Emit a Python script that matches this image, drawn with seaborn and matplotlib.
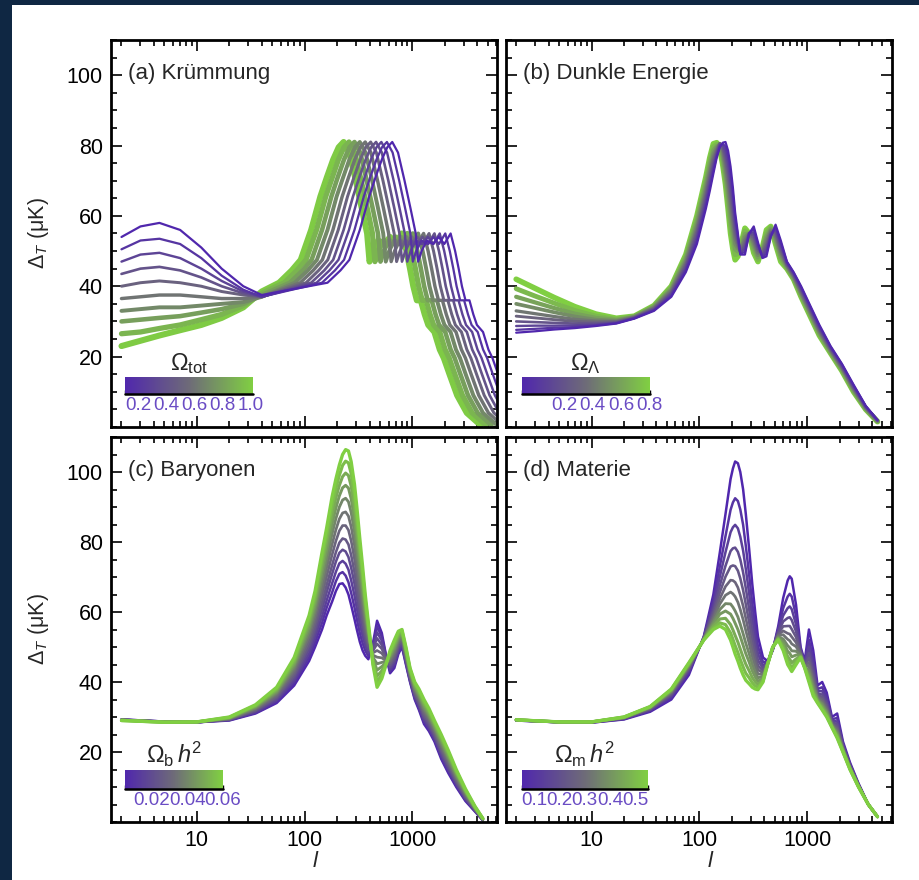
import numpy as np
import matplotlib
matplotlib.use("Agg")
import matplotlib.pyplot as plt
import seaborn as sns
from matplotlib.colors import LinearSegmentedColormap, Normalize
from matplotlib.cm import ScalarMappable
from matplotlib.patches import Rectangle
from matplotlib.ticker import FixedLocator, MultipleLocator, LogLocator, NullFormatter

# ============ Style ============
sns.set_theme(style="ticks")
plt.rcParams["font.family"] = ["Liberation Sans", "DejaVu Sans"]
plt.rcParams["mathtext.fontset"] = "custom"
plt.rcParams["mathtext.rm"] = "Liberation Sans"
plt.rcParams["mathtext.it"] = "Liberation Sans:italic"

CMAP = LinearSegmentedColormap.from_list("pg", ["#5027ad", "#6e6b78", "#80cf42"])

# ============ Panel (a): curvature ============
A_PARAM = [0.1, 0.2, 0.3, 0.4, 0.5, 0.6, 0.7, 0.8, 0.9, 1.0]
A_LOW_ELL = [2, 3, 4.5, 7, 11, 17, 27, 40]
A_LOW = [
    [54, 57, 58, 56, 51, 45, 40, 37.5],
    [50.5, 53, 53.5, 52, 48, 43, 39, 37],
    [47, 49, 49.5, 48, 45, 41.5, 38.5, 37],
    [43.5, 45, 45.5, 44.5, 42.5, 40, 38, 37],
    [40, 41, 41.5, 41, 40, 38.5, 37.5, 37],
    [36.5, 37, 37.5, 37.5, 37, 36.5, 36.5, 37],
    [33, 33.5, 34, 34, 34.5, 35, 35.5, 37],
    [30, 30.5, 31, 31.5, 32.5, 33.5, 35, 37.5],
    [26.5, 27, 28, 29, 30.5, 32, 34.5, 38],
    [23, 24.5, 26, 27.5, 29, 31, 34, 38.5],
]
# heights of the features after the first rise (same for every curve)
A_HIGH = [41, 44.5, 47.5, 56, 65.5, 71, 76, 79.5, 81, 78, 70, 62, 55, 47, 50, 53, 52,
          54, 52, 55, 50, 45, 40, 36, 36, 32, 29, 27, 22, 19.6, 15, 9, 4, 0.5]
# multipole positions of those features, one list per curve
A_HIGH_ELL = [
    [163, 215, 260, 325, 397, 455, 520, 585, 650, 735, 845, 962, 1073, 1131, 1216, 1359, 1554,
     1755, 1976, 2262, 2490, 2685, 2880, 3107, 3380, 3673, 3965, 4518, 5070, 5525, 6240],
    [145, 191, 232, 290, 354, 406, 464, 522, 580, 655, 754, 858, 957, 1009, 1085, 1212, 1386,
     1566, 1763, 2018, 2221, 2395, 2569, 2772, 3016, 3277, 3538, 4031, 4524, 4930, 5568, 6554],
    [129, 170, 206, 258, 314, 361, 412, 464, 515, 582, 670, 762, 850, 896, 963, 1076, 1231,
     1391, 1566, 1792, 1972, 2127, 2281, 2462, 2678, 2910, 3142, 3579, 4017, 4378, 4944, 5820, 7159],
    [115, 152, 184, 230, 281, 322, 368, 414, 460, 520, 598, 681, 759, 800, 860, 961, 1099,
     1242, 1398, 1601, 1762, 1900, 2038, 2199, 2392, 2599, 2806, 3197, 3588, 3910, 4416, 5198, 6394],
    [103, 135, 164, 205, 250, 287, 328, 369, 410, 463, 533, 607, 677, 713, 767, 857, 980,
     1107, 1246, 1427, 1570, 1693, 1816, 1960, 2132, 2317, 2501, 2850, 3198, 3485, 3936, 4633, 5699, 7667],
    [91, 120, 146, 183, 223, 256, 292, 329, 365, 412, 475, 540, 602, 635, 683, 763, 872,
     986, 1110, 1270, 1398, 1507, 1617, 1745, 1898, 2062, 2227, 2537, 2847, 3103, 3504, 4125, 5074, 6826],
    [81, 107, 130, 163, 198, 228, 260, 293, 325, 367, 423, 481, 536, 566, 608, 679, 777,
     878, 988, 1131, 1245, 1342, 1440, 1554, 1690, 1836, 1983, 2259, 2535, 2763, 3120, 3673, 4518, 6078],
    [73, 96, 116, 145, 177, 203, 232, 261, 290, 328, 377, 429, 479, 505, 542, 606, 693,
     783, 882, 1009, 1111, 1198, 1285, 1386, 1508, 1639, 1769, 2016, 2262, 2465, 2784, 3277, 4031, 5423],
    [65, 85, 103, 129, 157, 181, 206, 232, 258, 292, 335, 382, 426, 449, 482, 539, 617,
     697, 784, 898, 988, 1066, 1143, 1233, 1342, 1458, 1574, 1793, 2012, 2193, 2477, 2915, 3586, 4825],
    [58, 76, 92, 115, 140, 161, 184, 207, 230, 260, 299, 340, 380, 400, 430, 481, 550,
     621, 699, 800, 881, 950, 1019, 1099, 1196, 1300, 1403, 1599, 1794, 1955, 2208, 2599, 3197, 4301],
]

# ============ Panel (b): dark energy ============
B_PARAM = [-0.1, 0.0, 0.1, 0.2, 0.3, 0.4, 0.5, 0.6, 0.7, 0.8]
B_ELL = [2, 3, 4.5, 7, 11, 17, 25, 38, 55, 75, 95, 115, 125, 135, 145, 155, 165, 175, 185,
         195, 205, 215, 228, 240, 265, 290, 320, 350, 385, 420, 460, 510, 570, 650, 750, 880,
         1050, 1300, 1650, 2100, 2700, 3500, 4500]
B_TABLE = [  # one row per multipole, columns = curves
    [26.8, 27.6, 28.7, 30.0, 31.5, 33.0, 35.0, 37.0, 39.3, 42.0],
    [27.2, 27.9, 28.8, 29.8, 31.0, 32.2, 33.8, 35.4, 37.2, 39.4],
    [27.7, 28.2, 28.8, 29.6, 30.5, 31.4, 32.6, 33.8, 35.2, 36.8],
    [28.1, 28.4, 28.9, 29.4, 30.0, 30.6, 31.4, 32.2, 33.1, 34.2],
    [28.7, 28.9, 29.1, 29.4, 29.8, 30.1, 30.5, 31.0, 31.5, 32.1],
    [29.4, 29.5, 29.6, 29.7, 29.9, 30.0, 30.2, 30.4, 30.6, 30.9],
    [30.8, 30.9, 31.0, 31.0, 31.1, 31.2, 31.3, 31.3, 31.4, 31.5],
    [33.0, 33.2, 33.3, 33.5, 33.7, 33.8, 34.0, 34.2, 34.3, 34.5],
    [37.0, 37.3, 37.7, 38.0, 38.3, 38.7, 39.0, 39.3, 39.7, 40.0],
    [44.0, 44.6, 45.1, 45.7, 46.2, 46.8, 47.3, 47.9, 48.4, 49.0],
    [52.0, 52.9, 53.8, 54.7, 55.6, 56.4, 57.3, 58.2, 59.1, 60.0],
    [62.0, 63.0, 64.0, 65.0, 66.0, 67.0, 68.0, 69.0, 70.0, 71.0],
    [67.0, 68.1, 69.1, 70.2, 71.2, 72.3, 73.3, 74.4, 75.4, 76.5],
    [72.0, 72.9, 73.9, 74.8, 75.8, 76.7, 77.7, 78.6, 79.6, 80.5],
    [76.5, 77.0, 77.5, 77.9, 78.4, 78.9, 79.4, 79.8, 80.3, 80.8],
    [79.5, 79.8, 80.1, 80.4, 80.6, 80.6, 80.4, 80.0, 79.6, 79.0],
    [80.8, 80.5, 80.1, 79.7, 79.2, 78.5, 77.6, 76.7, 75.6, 74.5],
    [81.0, 79.7, 78.3, 77.0, 75.7, 74.3, 73.0, 71.7, 70.3, 69.0],
    [78.5, 76.7, 74.8, 73.0, 71.2, 69.3, 67.5, 65.7, 63.8, 62.0],
    [74.0, 71.9, 69.8, 67.7, 65.6, 63.4, 61.3, 59.2, 57.1, 55.0],
    [68.0, 66.1, 64.1, 62.2, 60.2, 58.3, 56.3, 54.4, 52.4, 50.5],
    [61.0, 59.5, 58.0, 56.5, 55.0, 53.5, 52.0, 50.5, 49.0, 47.5],
    [55.0, 54.3, 53.6, 52.8, 52.1, 51.4, 50.7, 49.9, 49.2, 48.5],
    [49.0, 49.2, 49.4, 49.7, 49.9, 50.1, 50.3, 50.6, 50.8, 51.0],
    [49.0, 49.8, 50.7, 51.5, 52.3, 53.2, 54.0, 54.8, 55.7, 56.5],
    [55.0, 55.0, 55.0, 55.0, 55.0, 55.0, 55.0, 55.0, 55.0, 55.0],
    [57.0, 56.2, 55.3, 54.5, 53.7, 52.8, 52.0, 51.2, 50.3, 49.5],
    [52.5, 51.9, 51.3, 50.7, 50.1, 49.4, 48.8, 48.2, 47.6, 47.0],
    [48.0, 48.3, 48.7, 49.0, 49.3, 49.7, 50.0, 50.3, 50.7, 51.0],
    [48.5, 49.3, 50.2, 51.0, 51.8, 52.7, 53.5, 54.3, 55.2, 56.0],
    [54.0, 54.3, 54.7, 55.0, 55.3, 55.7, 56.0, 56.3, 56.7, 57.0],
    [57.5, 56.9, 56.3, 55.7, 55.1, 54.4, 53.8, 53.2, 52.6, 52.0],
    [53.0, 52.3, 51.7, 51.0, 50.3, 49.7, 49.0, 48.3, 47.7, 47.0],
    [47.0, 46.8, 46.6, 46.3, 46.1, 45.9, 45.7, 45.4, 45.2, 45.0],
    [44.0, 43.8, 43.6, 43.3, 43.1, 42.9, 42.7, 42.4, 42.2, 42.0],
    [40.0, 39.7, 39.3, 39.0, 38.7, 38.3, 38.0, 37.7, 37.3, 37.0],
    [35.0, 34.7, 34.3, 34.0, 33.7, 33.3, 33.0, 32.7, 32.3, 32.0],
    [29.0, 28.7, 28.3, 28.0, 27.7, 27.3, 27.0, 26.7, 26.3, 26.0],
    [23.0, 22.8, 22.6, 22.3, 22.1, 21.9, 21.7, 21.4, 21.2, 21.0],
    [18.0, 17.8, 17.6, 17.3, 17.1, 16.9, 16.7, 16.4, 16.2, 16.0],
    [12.0, 11.8, 11.6, 11.3, 11.1, 10.9, 10.7, 10.4, 10.2, 10.0],
    [6.0, 5.9, 5.8, 5.7, 5.6, 5.4, 5.3, 5.2, 5.1, 5.0],
    [2.0, 1.9, 1.9, 1.8, 1.8, 1.7, 1.7, 1.6, 1.6, 1.5],
]

# ============ Panel (c): baryons ============
C_PARAM = [0.005, 0.01, 0.015, 0.02, 0.025, 0.03, 0.035, 0.04, 0.045, 0.05, 0.055, 0.06]
C_ELL = [2, 5, 10, 20, 35, 55, 80, 110, 125, 145, 160, 180, 195, 210, 225, 240, 255, 270,
         290, 305, 325, 345, 365, 390, 430, 470, 520, 570, 620, 680, 740, 800, 870, 950,
         1050, 1150, 1280, 1420, 1600, 1850, 2150, 2550, 3100, 3800, 4500]
C_TABLE = [
    [29.3, 29.3, 29.2, 29.2, 29.2, 29.2, 29.1, 29.1, 29.1, 29.1, 29.0, 29.0],
    [28.7, 28.7, 28.7, 28.6, 28.6, 28.6, 28.6, 28.6, 28.6, 28.5, 28.5, 28.5],
    [28.5, 28.5, 28.5, 28.5, 28.5, 28.5, 28.6, 28.6, 28.6, 28.6, 28.6, 28.6],
    [29.0, 29.1, 29.2, 29.3, 29.3, 29.4, 29.5, 29.6, 29.7, 29.8, 29.9, 30.0],
    [31.0, 31.2, 31.4, 31.7, 31.9, 32.1, 32.4, 32.6, 32.9, 33.1, 33.3, 33.5],
    [34.0, 34.4, 34.8, 35.2, 35.6, 36.0, 36.5, 36.9, 37.3, 37.7, 38.1, 38.5],
    [39.0, 39.7, 40.4, 41.1, 41.8, 42.6, 43.4, 44.2, 44.9, 45.6, 46.3, 47.0],
    [46.0, 47.1, 48.2, 49.4, 50.5, 51.8, 53.1, 54.4, 55.6, 56.8, 57.9, 59.0],
    [50.0, 51.4, 52.8, 54.2, 55.6, 57.2, 58.8, 60.4, 61.9, 63.3, 64.7, 66.0],
    [55.0, 56.9, 58.8, 60.8, 62.7, 64.9, 67.0, 69.2, 71.3, 73.3, 75.2, 77.0],
    [59.0, 61.2, 63.3, 65.6, 67.7, 70.2, 72.7, 75.2, 77.5, 79.8, 81.9, 84.0],
    [63.0, 65.6, 68.2, 70.9, 73.4, 76.4, 79.4, 82.4, 85.2, 87.9, 90.5, 93.0],
    [66.0, 68.8, 71.5, 74.4, 77.1, 80.3, 83.5, 86.7, 89.7, 92.6, 95.3, 98.0],
    [68.0, 70.9, 73.9, 76.9, 79.8, 83.2, 86.6, 90.0, 93.2, 96.2, 99.1, 102.0],
    [68.2, 71.4, 74.6, 77.8, 81.0, 84.7, 88.3, 92.0, 95.5, 98.7, 101.9, 105.0],
    [67.0, 70.4, 73.8, 77.3, 80.7, 84.7, 88.6, 92.5, 96.2, 99.7, 103.1, 106.4],
    [65.0, 68.5, 72.1, 75.7, 79.3, 83.4, 87.4, 91.5, 95.4, 99.0, 102.6, 106.0],
    [62.0, 65.5, 69.1, 72.7, 76.3, 80.4, 84.4, 88.5, 92.4, 96.0, 99.6, 103.0],
    [58.0, 61.3, 64.7, 68.1, 71.4, 75.2, 79.1, 82.9, 86.5, 90.0, 93.3, 96.5],
    [55.0, 58.0, 61.1, 64.2, 67.2, 70.7, 74.1, 77.6, 80.9, 84.1, 87.1, 90.0],
    [51.5, 54.0, 56.6, 59.2, 61.8, 64.7, 67.6, 70.6, 73.4, 76.0, 78.5, 81.0],
    [49.0, 51.1, 53.2, 55.3, 57.4, 59.8, 62.1, 64.5, 66.8, 68.9, 71.0, 73.0],
    [47.5, 49.0, 50.5, 52.1, 53.6, 55.3, 57.1, 58.8, 60.5, 62.0, 63.5, 65.0],
    [46.5, 47.4, 48.3, 49.3, 50.2, 51.2, 52.2, 53.3, 54.3, 55.2, 56.1, 57.0],
    [51.0, 50.5, 50.0, 49.4, 48.9, 48.3, 47.7, 47.1, 46.6, 46.0, 45.5, 45.0],
    [57.5, 55.9, 54.2, 52.5, 50.9, 49.0, 47.1, 45.2, 43.4, 41.7, 40.1, 38.5],
    [54.0, 52.9, 51.8, 50.6, 49.5, 48.2, 46.9, 45.6, 44.4, 43.2, 42.1, 41.0],
    [47.5, 47.3, 47.1, 46.8, 46.6, 46.4, 46.1, 45.9, 45.6, 45.4, 45.2, 45.0],
    [42.5, 43.1, 43.6, 44.2, 44.8, 45.4, 46.1, 46.7, 47.3, 47.9, 48.5, 49.0],
    [44.0, 44.7, 45.4, 46.1, 46.8, 47.6, 48.4, 49.2, 49.9, 50.6, 51.3, 52.0],
    [48.0, 48.6, 49.1, 49.7, 50.3, 50.9, 51.6, 52.2, 52.8, 53.4, 54.0, 54.5],
    [50.0, 50.4, 50.9, 51.3, 51.7, 52.2, 52.7, 53.2, 53.7, 54.2, 54.6, 55.0],
    [45.0, 45.4, 45.9, 46.3, 46.7, 47.2, 47.7, 48.2, 48.7, 49.2, 49.6, 50.0],
    [40.0, 40.3, 40.7, 41.0, 41.4, 41.8, 42.2, 42.6, 43.0, 43.3, 43.7, 44.0],
    [35.0, 35.4, 35.9, 36.3, 36.7, 37.2, 37.7, 38.2, 38.7, 39.2, 39.6, 40.0],
    [32.0, 32.5, 33.0, 33.6, 34.1, 34.7, 35.3, 35.9, 36.4, 37.0, 37.5, 38.0],
    [28.0, 28.6, 29.2, 29.8, 30.4, 31.1, 31.8, 32.5, 33.2, 33.8, 34.4, 35.0],
    [26.0, 26.6, 27.1, 27.7, 28.3, 28.9, 29.6, 30.2, 30.8, 31.4, 32.0, 32.5],
    [23.0, 23.5, 24.0, 24.6, 25.1, 25.7, 26.3, 26.9, 27.4, 28.0, 28.5, 29.0],
    [18.0, 18.6, 19.2, 19.8, 20.4, 21.1, 21.8, 22.5, 23.2, 23.8, 24.4, 25.0],
    [14.0, 14.6, 15.1, 15.7, 16.3, 16.9, 17.6, 18.2, 18.8, 19.4, 20.0, 20.5],
    [10.0, 10.4, 10.9, 11.3, 11.7, 12.2, 12.7, 13.2, 13.7, 14.2, 14.6, 15.0],
    [6.0, 6.3, 6.6, 6.9, 7.2, 7.6, 7.9, 8.3, 8.6, 8.9, 9.2, 9.5],
    [3.0, 3.1, 3.3, 3.4, 3.5, 3.7, 3.8, 4.0, 4.1, 4.2, 4.4, 4.5],
    [0.5, 0.5, 0.6, 0.6, 0.7, 0.7, 0.8, 0.8, 0.9, 0.9, 1.0, 1.0],
]

# ============ Panel (d): matter ============
D_PARAM = [0.05, 0.10, 0.14, 0.19, 0.23, 0.28, 0.32, 0.37, 0.41, 0.46, 0.50, 0.55]
D_ELL = [2, 5, 10, 20, 35, 55, 80, 110, 135, 155, 175, 195, 205, 215, 228, 240, 255, 270,
         290, 310, 330, 350, 390, 430, 480, 540, 600, 660, 690, 720, 790, 870, 950, 1040,
         1140, 1250, 1380, 1520, 1700, 1900, 2150, 2500, 3000, 3700, 4500]
D_TABLE = [
    [29.0, 29.0, 29.1, 29.1, 29.1, 29.1, 29.1, 29.2, 29.2, 29.2, 29.2, 29.2],
    [28.5, 28.5, 28.5, 28.5, 28.6, 28.6, 28.6, 28.6, 28.6, 28.6, 28.6, 28.6],
    [28.4, 28.4, 28.5, 28.5, 28.5, 28.5, 28.5, 28.6, 28.6, 28.6, 28.6, 28.6],
    [29.3, 29.4, 29.5, 29.6, 29.7, 29.7, 29.8, 29.8, 29.9, 29.9, 30.0, 30.0],
    [31.5, 31.8, 32.0, 32.2, 32.3, 32.4, 32.6, 32.7, 32.8, 32.9, 32.9, 33.0],
    [35.0, 35.6, 36.0, 36.3, 36.6, 36.9, 37.1, 37.3, 37.5, 37.7, 37.9, 38.0],
    [42.0, 42.7, 43.2, 43.6, 43.9, 44.2, 44.5, 44.7, 44.9, 45.2, 45.3, 45.5],
    [53.0, 52.8, 52.7, 52.6, 52.5, 52.4, 52.3, 52.2, 52.2, 52.1, 52.0, 52.0],
    [65.0, 63.1, 61.7, 60.5, 59.6, 58.7, 58.0, 57.2, 56.6, 56.0, 55.4, 55.0],
    [77.0, 73.0, 70.1, 67.6, 65.6, 63.8, 62.3, 60.7, 59.4, 58.0, 56.9, 56.0],
    [88.0, 81.7, 77.1, 73.2, 70.1, 67.3, 64.8, 62.4, 60.3, 58.2, 56.4, 55.0],
    [98.0, 89.2, 82.8, 77.4, 73.0, 69.1, 65.7, 62.3, 59.4, 56.4, 54.0, 52.0],
    [101.0, 91.3, 84.2, 78.2, 73.3, 69.0, 65.2, 61.4, 58.2, 54.9, 52.2, 50.0],
    [103.0, 92.5, 84.9, 78.4, 73.1, 68.5, 64.4, 60.3, 56.8, 53.3, 50.4, 48.0],
    [102.5, 91.7, 83.9, 77.2, 71.8, 67.0, 62.8, 58.6, 55.0, 51.4, 48.4, 46.0],
    [100.0, 89.3, 81.5, 75.0, 69.6, 64.8, 60.7, 56.5, 53.0, 49.4, 46.4, 44.0],
    [95.0, 84.9, 77.5, 71.3, 66.2, 61.7, 57.8, 53.8, 50.5, 47.1, 44.3, 42.0],
    [88.0, 78.9, 72.3, 66.8, 62.2, 58.2, 54.7, 51.1, 48.1, 45.1, 42.5, 40.5],
    [78.0, 70.6, 65.3, 60.8, 57.1, 53.8, 51.0, 48.1, 45.7, 43.2, 41.2, 39.5],
    [68.0, 62.4, 58.3, 54.8, 52.0, 49.5, 47.3, 45.1, 43.2, 41.3, 39.8, 38.5],
    [60.0, 55.8, 52.7, 50.2, 48.1, 46.2, 44.6, 42.9, 41.5, 40.1, 38.9, 38.0],
    [53.0, 50.1, 48.0, 46.2, 44.7, 43.5, 42.3, 41.2, 40.2, 39.3, 38.5, 37.8],
    [47.0, 45.7, 44.7, 43.9, 43.2, 42.6, 42.1, 41.6, 41.1, 40.7, 40.3, 40.0],
    [46.0, 45.8, 45.7, 45.6, 45.5, 45.4, 45.3, 45.2, 45.2, 45.1, 45.0, 45.0],
    [49.0, 49.2, 49.3, 49.4, 49.5, 49.6, 49.7, 49.8, 49.8, 49.9, 50.0, 50.0],
    [56.0, 55.2, 54.7, 54.2, 53.8, 53.5, 53.2, 52.9, 52.6, 52.4, 52.2, 52.0],
    [64.0, 61.1, 59.0, 57.3, 55.9, 54.6, 53.5, 52.3, 51.4, 50.4, 49.6, 49.0],
    [69.0, 64.4, 61.1, 58.3, 56.0, 53.9, 52.2, 50.4, 48.8, 47.3, 46.0, 45.0],
    [70.2, 65.2, 61.6, 58.5, 56.0, 53.7, 51.8, 49.8, 48.2, 46.5, 45.1, 44.0],
    [69.5, 64.4, 60.8, 57.7, 55.1, 52.9, 50.9, 48.9, 47.2, 45.5, 44.1, 43.0],
    [62.0, 58.8, 56.4, 54.4, 52.8, 51.3, 50.1, 48.8, 47.7, 46.6, 45.7, 45.0],
    [50.0, 49.4, 49.0, 48.7, 48.4, 48.1, 47.9, 47.7, 47.5, 47.3, 47.1, 47.0],
    [46.0, 45.6, 45.3, 45.1, 44.9, 44.7, 44.6, 44.4, 44.3, 44.2, 44.1, 44.0],
    [55.0, 52.1, 50.1, 48.3, 46.9, 45.6, 44.5, 43.3, 42.4, 41.4, 40.6, 40.0],
    [49.0, 46.5, 44.7, 43.2, 41.9, 40.8, 39.9, 38.9, 38.1, 37.2, 36.6, 36.0],
    [39.0, 38.0, 37.4, 36.8, 36.3, 35.9, 35.5, 35.1, 34.8, 34.5, 34.2, 34.0],
    [40.0, 38.5, 37.4, 36.4, 35.7, 35.0, 34.4, 33.8, 33.3, 32.8, 32.3, 32.0],
    [37.0, 35.7, 34.7, 33.9, 33.2, 32.6, 32.1, 31.6, 31.1, 30.7, 30.3, 30.0],
    [30.0, 29.4, 29.0, 28.7, 28.4, 28.1, 27.9, 27.7, 27.5, 27.3, 27.1, 27.0],
    [31.0, 29.7, 28.7, 27.9, 27.2, 26.6, 26.1, 25.6, 25.1, 24.7, 24.3, 24.0],
    [23.0, 22.4, 22.0, 21.7, 21.4, 21.1, 20.9, 20.7, 20.5, 20.3, 20.1, 20.0],
    [17.0, 16.6, 16.3, 16.1, 15.9, 15.7, 15.6, 15.4, 15.3, 15.2, 15.1, 15.0],
    [11.0, 10.8, 10.7, 10.6, 10.5, 10.4, 10.3, 10.2, 10.2, 10.1, 10.0, 10.0],
    [5.0, 5.0, 5.0, 5.0, 5.0, 5.0, 5.0, 5.0, 5.0, 5.0, 5.0, 5.0],
    [1.5, 1.5, 1.5, 1.5, 1.5, 1.5, 1.5, 1.5, 1.5, 1.5, 1.5, 1.5],
]


# ============ Helpers ============
def draw_curves(ax, ells, vals, params, norm, lw_min, lw_max, reverse=False):
    idx = list(range(len(params)))
    if reverse:
        idx = idx[::-1]
    for i in idx:
        frac = float(np.clip(norm(params[i]), 0, 1))
        sns.lineplot(x=np.asarray(ells[i], dtype=float), y=np.asarray(vals[i], dtype=float),
                     ax=ax, color=CMAP(frac), linewidth=lw_min + (lw_max - lw_min) * frac ** 2,
                     estimator=None, sort=False, legend=False,
                     solid_joinstyle="round", solid_capstyle="round")


def style_axes(ax, show_x, show_y):
    ax.set_xscale("log")
    ax.set_xlim(1.6, 6100)
    ax.set_ylim(0, 110)
    ax.set_xticks([10, 100, 1000], labels=["10", "100", "1000"])
    ax.xaxis.set_minor_locator(LogLocator(base=10, subs=np.arange(2, 10)))
    ax.xaxis.set_minor_formatter(NullFormatter())
    ax.yaxis.set_major_locator(FixedLocator([20, 40, 60, 80, 100]))
    ax.yaxis.set_minor_locator(MultipleLocator(5))
    ax.tick_params(which="both", direction="in", top=True, right=True, color="black",
                   labelsize=15.5, labelcolor="black", width=1.2, pad=6)
    ax.tick_params(which="major", length=8)
    ax.tick_params(which="minor", length=4)
    ax.tick_params(labelbottom=show_x, labelleft=show_y)
    for s in ax.spines.values():
        s.set_color("black")
        s.set_linewidth(2)
    ax.set_facecolor("white")
    ax.set_xlabel("")
    ax.set_ylabel("")


def add_colorbar(ax, rect, norm, title, major, labels, minor):
    cax = ax.inset_axes(rect)
    cb = plt.colorbar(ScalarMappable(norm=norm, cmap=CMAP), cax=cax, orientation="horizontal")
    cb.outline.set_visible(False)
    cb.set_ticks(major, labels=labels)
    cax.xaxis.set_minor_locator(FixedLocator(minor))
    cax.tick_params(which="both", direction="in", bottom=True, top=False, length=3,
                    width=1, color="black", pad=2)
    cax.tick_params(which="major", labelsize=13.5, labelcolor="#6a4cc4")
    cax.plot([0, 1], [0, 0], transform=cax.transAxes, color="black", lw=1.8, clip_on=False)
    cax.text(0.5, 1.08, title, transform=cax.transAxes, ha="center", va="bottom", fontsize=17)


# ============ Figure ============
fig = plt.figure(figsize=(9.2, 8.8), dpi=100, facecolor="#0f2743")
fig.add_artist(Rectangle((12 / 920, 0), 1, 875 / 880, transform=fig.transFigure,
                         facecolor="white", edgecolor="none", zorder=-5))

ax_a = fig.add_axes([0.1207, 0.5148, 0.4196, 0.4398])
ax_b = fig.add_axes([0.5497, 0.5148, 0.4196, 0.4398])
ax_c = fig.add_axes([0.1207, 0.0659, 0.4196, 0.4375])
ax_d = fig.add_axes([0.5497, 0.0659, 0.4196, 0.4375])
for ax in (ax_a, ax_b, ax_c, ax_d):
    ax.set_xscale("log")

# (a)
norm_a = Normalize(0.1, 1.02)
a_ells = [A_LOW_ELL + A_HIGH_ELL[i] for i in range(len(A_PARAM))]
a_vals = [A_LOW[i] + A_HIGH[:len(A_HIGH_ELL[i])] for i in range(len(A_PARAM))]
draw_curves(ax_a, a_ells, a_vals, A_PARAM, norm_a, 1.6, 4.5, reverse=True)

# (b)
norm_b = Normalize(-0.1, 0.8)
b_vals = np.array(B_TABLE).T
draw_curves(ax_b, [B_ELL] * len(B_PARAM), b_vals, B_PARAM, norm_b, 1.6, 4.0, reverse=True)

# (c)
norm_c = Normalize(0.005, 0.06)
c_vals = np.array(C_TABLE).T
draw_curves(ax_c, [C_ELL] * len(C_PARAM), c_vals, C_PARAM, norm_c, 1.8, 2.4)

# (d)
norm_d = Normalize(0.05, 0.55)
d_vals = np.array(D_TABLE).T
draw_curves(ax_d, [D_ELL] * len(D_PARAM), d_vals, D_PARAM, norm_d, 1.8, 2.4)

style_axes(ax_a, False, True)
style_axes(ax_b, False, False)
style_axes(ax_c, True, True)
style_axes(ax_d, True, False)

for ax, lab in [(ax_a, "(a) Krümmung"), (ax_b, "(b) Dunkle Energie"),
                (ax_c, "(c) Baryonen"), (ax_d, "(d) Materie")]:
    ax.text(0.045, 0.913, lab, transform=ax.transAxes, fontsize=16, va="center", ha="left")

for ax in (ax_a, ax_c):
    ax.set_ylabel(r"$\Delta_T$ (μK)", fontsize=15.5)
    ax.yaxis.set_label_coords(-0.155, 0.5)
for ax in (ax_c, ax_d):
    ax.set_xlabel(r"$l$", fontsize=16)
    ax.xaxis.set_label_coords(0.53, -0.075)

add_colorbar(ax_a, [0.036, 0.085, 0.332, 0.044], norm_a, r"$\Omega_{\mathrm{tot}}$",
             [0.2, 0.4, 0.6, 0.8, 1.0], ["0.2", "0.4", "0.6", "0.8", "1.0"],
             [0.1, 0.3, 0.5, 0.7, 0.9])
add_colorbar(ax_b, [0.041, 0.085, 0.332, 0.044], norm_b, r"$\Omega_{\Lambda}$",
             [0.2, 0.4, 0.6, 0.8], ["0.2", "0.4", "0.6", "0.8"],
             [-0.1, 0.0, 0.1, 0.3, 0.5, 0.7])
add_colorbar(ax_c, [0.036, 0.086, 0.253, 0.048], norm_c, r"$\Omega_{\mathrm{b}}\,h^2$",
             [0.02, 0.04, 0.06], ["0.02", "0.04", "0.06"],
             [0.005, 0.01, 0.015, 0.025, 0.03, 0.035, 0.045, 0.05, 0.055])
add_colorbar(ax_d, [0.041, 0.086, 0.327, 0.048], norm_d, r"$\Omega_{\mathrm{m}}\,h^2$",
             [0.1, 0.2, 0.3, 0.4, 0.5], ["0.1", "0.2", "0.3", "0.4", "0.5"],
             [0.05, 0.15, 0.25, 0.35, 0.45, 0.55])

fig.savefig("out.png", dpi=100, facecolor=fig.get_facecolor())
